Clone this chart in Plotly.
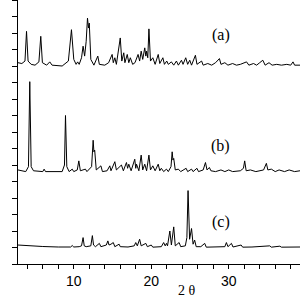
import plotly.graph_objects as go

# Trace (a): vertices (2-theta, intensity above its own baseline)
a_x = [2.8, 3.3, 3.7, 3.9, 4.1, 4.5, 5.0, 5.5, 5.74, 5.95, 6.5, 6.9, 7.2, 8.5, 9.3, 9.7, 10.0, 10.3, 10.5, 10.7,
       11.0, 11.2, 11.4, 11.6, 11.77, 11.9, 12.0, 12.2, 12.6, 13.1, 13.3, 14.0, 14.5, 14.95, 15.1, 15.3, 15.5,
       16.0, 16.2, 16.45, 16.6, 16.9, 17.1, 17.3, 17.6, 17.9, 18.3, 18.5, 18.7, 18.9, 19.16, 19.3, 19.4, 19.55,
       19.7, 19.9, 20.2, 20.5, 20.9, 21.1, 21.5, 21.7, 22.0, 22.2, 22.6, 22.9, 23.25, 23.5, 23.9, 24.1, 24.45,
       24.7, 24.97, 25.2, 25.7, 25.9, 26.5, 26.7, 27.3, 27.8, 28.3, 28.8, 29.0, 29.5, 29.9, 30.5, 31.0, 31.5,
       32.3, 32.6, 33.2, 33.6, 34.0, 34.4, 34.7, 35.2, 35.6, 36.2, 36.8, 37.5, 38.0, 38.3, 38.5, 39.2]
a_y = [0.2, 0.15, 0.3, 2.1, 0.3, 0.1, 0.05, 0.25, 1.8, 0.2, 0.05, 0.25, 0.05, 0.0, 0.3, 2.2, 0.4, 0.1, 0.25, 0.1,
       0.5, 1.2, 0.6, 1.5, 2.9, 2.3, 2.6, 0.4, 0.05, 0.6, 0.1, 0.05, 0.2, 0.7, 0.2, 0.5, 0.1,
       1.7, 0.3, 0.8, 0.2, 0.7, 0.2, 0.5, 0.1, 0.2, 0.7, 0.3, 0.9, 0.4, 1.1, 0.6, 0.9, 0.5,
       2.25, 0.3, 0.5, 0.1, 0.7, 0.15, 0.5, 0.1, 0.3, 0.1, 0.25, 0.05, 0.3, 0.05, 0.35, 0.1, 0.5,
       0.1, 0.35, 0.05, 0.65, 0.1, 0.3, 0.05, 0.15, 0.05, 0.2, 0.45, 0.1, 0.2, 0.05, 0.15, 0.05, 0.1,
       0.25, 0.05, 0.15, 0.05, 0.2, 0.35, 0.05, 0.2, 0.05, 0.1, 0.05, 0.1, 0.05, 0.25, 0.05, 0.05]

# Trace (b)
b_x = [2.8, 3.8, 4.15, 4.32, 4.5, 4.8, 6.0, 6.17, 6.35, 8.5, 8.8, 8.93, 9.1, 9.4, 9.8, 10.0, 10.45, 10.65, 10.85,
       11.5, 11.7, 12.3, 12.5, 12.6, 12.7, 12.9, 13.5, 13.7, 14.3, 14.65, 14.8, 15.3, 15.5, 16.15, 16.4, 16.8,
       16.95, 17.1, 17.4, 17.87, 18.0, 18.1, 18.4, 18.7, 18.9, 19.16, 19.4, 19.7, 19.9, 20.2, 20.5, 20.9, 21.1,
       21.3, 21.6, 21.96, 22.2, 22.55, 22.7, 22.8, 22.9, 23.1, 23.5, 23.8, 24.5, 24.7, 25.2, 25.4, 25.9, 26.1,
       26.7, 27.0, 27.2, 27.5, 27.7, 28.3, 29.0, 29.5, 30.0, 30.5, 31.5, 31.9, 32.06, 32.25, 32.8, 33.5, 34.5,
       34.86, 35.05, 35.5, 36.0, 36.5, 37.2, 37.8, 38.5, 39.2]
b_y = [0.1, 0.0, 0.3, 5.45, 0.3, 0.05, 0.0, 0.15, 0.0, 0.0, 0.4, 3.4, 0.3, 0.0, 0.15, 0.0, 0.1, 0.65, 0.05,
       0.15, 0.0, 0.3, 1.9, 1.2, 1.3, 0.1, 0.35, 0.0, 0.05, 0.35, 0.05, 0.6, 0.1, 0.4, 0.05, 0.55,
       0.2, 0.45, 0.05, 0.75, 0.2, 0.45, 0.05, 1.0, 0.1, 0.45, 0.05, 1.0, 0.1, 0.35, 0.05, 0.45, 0.05,
       0.2, 0.0, 0.15, 0.0, 0.3, 1.2, 0.7, 0.8, 0.1, 0.15, 0.0, 0.2, 0.0, 0.15, 0.0, 0.2, 0.0,
       0.1, 0.55, 0.1, 0.25, 0.05, 0.0, 0.1, 0.0, 0.1, 0.0, 0.05, 0.2, 0.65, 0.05, 0.1, 0.0, 0.1,
       0.5, 0.1, 0.15, 0.0, 0.1, 0.0, 0.1, 0.0, 0.05]

# Trace (c)
c_x = [2.8, 4.0, 6.0, 8.0, 9.6, 9.8, 10.0, 10.7, 11.0, 11.2, 11.35, 11.6, 12.2, 12.4, 12.55, 12.8, 13.3, 13.5,
       14.2, 14.4, 14.55, 14.8, 15.1, 15.3, 15.85, 16.0, 17.0, 17.8, 18.0, 18.2, 18.5, 18.7, 19.3, 19.5, 20.0,
       20.2, 21.3, 21.6, 21.8, 21.96, 22.1, 22.4, 22.6, 22.9, 23.1, 23.6, 23.8, 24.4, 24.6, 24.75, 24.95, 25.2,
       25.4, 25.6, 25.8, 26.4, 26.9, 27.1, 28.5, 29.5, 29.7, 29.9, 30.35, 30.55, 31.6, 31.8, 33.0, 35.3, 35.5,
       36.6, 36.8, 39.2]
c_y = [0.15, 0.1, 0.06, 0.03, 0.03, 0.12, 0.03, 0.05, 0.1, 0.6, 0.1, 0.05, 0.1, 0.72, 0.15, 0.05, 0.25, 0.05,
       0.15, 0.4, 0.15, 0.2, 0.3, 0.05, 0.2, 0.05, 0.03, 0.1, 0.3, 0.1, 0.5, 0.1, 0.25, 0.05, 0.15,
       0.02, 0.05, 0.3, 0.1, 0.25, 0.1, 1.0, 0.15, 1.25, 0.1, 0.3, 0.05, 0.1, 0.6, 3.45, 0.5, 1.15,
       0.2, 0.45, 0.05, 0.05, 0.25, 0.02, 0.03, 0.05, 0.3, 0.05, 0.25, 0.03, 0.15, 0.02, 0.03, 0.1, 0.02,
       0.08, 0.02, 0.03]

labels = ["(a)", "(b)", "(c)"]
tick_vals = [4, 6, 8, 10, 12, 14, 16, 18, 20, 22, 24, 26, 28, 30, 32, 34, 36, 38]
tick_text = ["", "", "", "10", "", "", "", "", "20", "", "", "", "", "30", "", "", "", ""]
x_title = "2 θ"

offsets = [12.0, 5.6, 1.0]
label_pos = [(29.0, 13.9), (29.0, 7.15), (29.0, 2.55)]

fig = go.Figure()
for xs, ys, off in [(a_x, a_y, offsets[0]), (b_x, b_y, offsets[1]), (c_x, c_y, offsets[2])]:
    fig.add_trace(go.Scatter(x=xs, y=[v + off for v in ys], mode="lines",
                             line=dict(color="black", width=1), showlegend=False))

for lab, (lx, ly) in zip(labels, label_pos):
    fig.add_annotation(x=lx, y=ly, text=lab, showarrow=False,
                       font=dict(family="Liberation Serif", size=16, color="black"))

fig.add_annotation(x=24.6, xref="x", y=-0.102, yref="paper", yanchor="middle", text=x_title,
                   showarrow=False, font=dict(family="Liberation Serif", size=14, color="black"))

fig.update_layout(
    width=300, height=300,
    margin=dict(l=18, r=0, t=0, b=36),
    paper_bgcolor="white", plot_bgcolor="white",
    xaxis=dict(range=[2.8, 39.2], tickvals=tick_vals, ticktext=tick_text, ticks="outside",
               ticklen=4, tickcolor="black", showline=True, linecolor="black", linewidth=1,
               showgrid=False, zeroline=False,
               tickfont=dict(family="Liberation Sans", size=14, color="black")),
    yaxis=dict(range=[0, 16], dtick=1, ticks="outside", ticklen=5, tickcolor="black",
               showline=True, linecolor="black", linewidth=1, showticklabels=False,
               showgrid=False, zeroline=False),
)

fig.write_html("out.html")
